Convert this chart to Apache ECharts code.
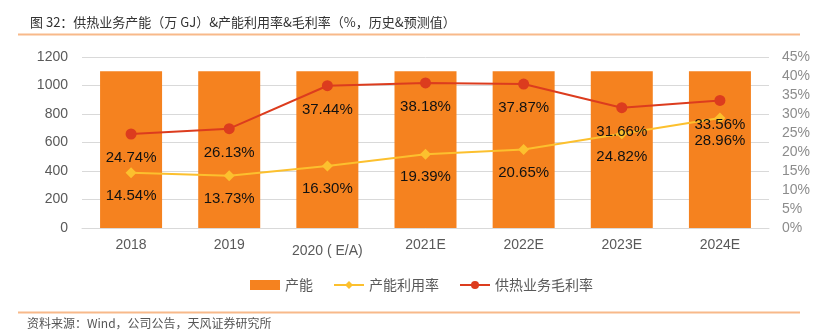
<!DOCTYPE html>
<html><head><meta charset="utf-8">
<script src="https://cdn.jsdelivr.net/npm/echarts@6/dist/echarts.min.js"></script>
<style>html,body{margin:0;padding:0;background:#fff;}#c{width:820px;height:334px;}</style>
</head><body><div id="c"></div>
<script>
var categories = ['2018', '2019', '2020 ( E/A)', '2021E', '2022E', '2023E', '2024E'];
var capacity = [1100, 1100, 1100, 1100, 1100, 1100, 1100];
var utilization = [14.54, 13.73, 16.30, 19.39, 20.65, 24.82, 28.96];
var grossMargin = [24.74, 26.13, 37.44, 38.18, 37.87, 31.66, 33.56];
var leftTicks = [0, 1200, 200];
var rightTicks = [0, 45, 5];

var chart = echarts.init(document.getElementById('c'));
var lblFont = {fontFamily: '"Liberation Sans", Arial, sans-serif', fontSize: 15, color: '#111'};
chart.setOption({
  animation: false,
  title: {
    text: '图 32：供热业务产能（万 GJ）&产能利用率&毛利率（%，历史&预测值）',
    left: 25, top: 11,
    textStyle: {fontFamily: '"Noto Sans CJK SC", sans-serif', fontSize: 13, fontWeight: 'normal', color: '#333'}
  },
  graphic: [
    {type: 'line', shape: {x1: 18, y1: 34.5, x2: 800, y2: 34.5}, style: {stroke: '#F8B98A', lineWidth: 2}},
    {type: 'line', shape: {x1: 18, y1: 312.5, x2: 800, y2: 312.5}, style: {stroke: '#F8B98A', lineWidth: 2}},
    {type: 'text', left: 27, top: 317, style: {text: '资料来源：Wind，公司公告，天风证券研究所', fill: '#555', font: '12px "Noto Sans CJK SC", sans-serif'}}
  ],
  legend: {
    bottom: 37, left: 245, itemGap: 20, itemWidth: 30, itemHeight: 10,
    textStyle: {fontFamily: '"Noto Sans CJK SC", sans-serif', fontSize: 14, color: '#595959'},
    data: [
      {name: '产能', icon: 'rect'},
      {name: '产能利用率'},
      {name: '供热业务毛利率'}
    ]
  },
  grid: {left: 82, right: 51, top: 57, bottom: 106},
  xAxis: {
    type: 'category', data: categories,
    axisLine: {lineStyle: {color: '#d9d9d9'}}, axisTick: {show: false},
    axisLabel: {
      interval: 0, margin: 10,
      fontFamily: '"Liberation Sans", Arial, sans-serif', fontSize: 14, color: '#595959',
      formatter: function (v, i) { return i === 2 ? '{low|' + v + '}' : v; },
      rich: {low: {padding: [6, 0, 0, 0], fontFamily: '"Liberation Sans", Arial, sans-serif', fontSize: 14, color: '#595959'}}
    }
  },
  yAxis: [
    {type: 'value', min: leftTicks[0], max: leftTicks[1], interval: leftTicks[2],
     axisLine: {show: false}, axisTick: {show: false},
     splitLine: {lineStyle: {color: '#d9d9d9'}},
     axisLabel: {margin: 14, formatter: function (v) { return String(v); }, fontFamily: '"Liberation Sans", Arial, sans-serif', fontSize: 14, color: '#595959'}},
    {type: 'value', min: rightTicks[0], max: rightTicks[1], interval: rightTicks[2],
     axisLine: {show: false}, axisTick: {show: false}, splitLine: {show: false},
     axisLabel: {margin: 13, formatter: '{value}%', fontFamily: '"Liberation Sans Narrow", "Liberation Sans", Arial, sans-serif', fontSize: 14, color: '#8c8c8c'}}
  ],
  series: [
    {name: '产能', type: 'bar', data: capacity, barWidth: 62, itemStyle: {color: '#F5821F'}},
    {name: '产能利用率', type: 'line', yAxisIndex: 1, data: utilization, symbol: 'diamond', symbolSize: 11,
     lineStyle: {color: '#FCC02E', width: 2}, itemStyle: {color: '#FCC02E'},
     label: Object.assign({show: true, position: 'bottom', distance: 10, formatter: function (p) { return p.value.toFixed(2) + '%'; }}, lblFont)},
    {name: '供热业务毛利率', type: 'line', yAxisIndex: 1, data: grossMargin, symbol: 'circle', symbolSize: 11,
     lineStyle: {color: '#DC3C1E', width: 2}, itemStyle: {color: '#DC3C1E'},
     label: Object.assign({show: true, position: 'bottom', distance: 11, formatter: function (p) { return p.value.toFixed(2) + '%'; }}, lblFont)}
  ]
});
</script></body></html>
